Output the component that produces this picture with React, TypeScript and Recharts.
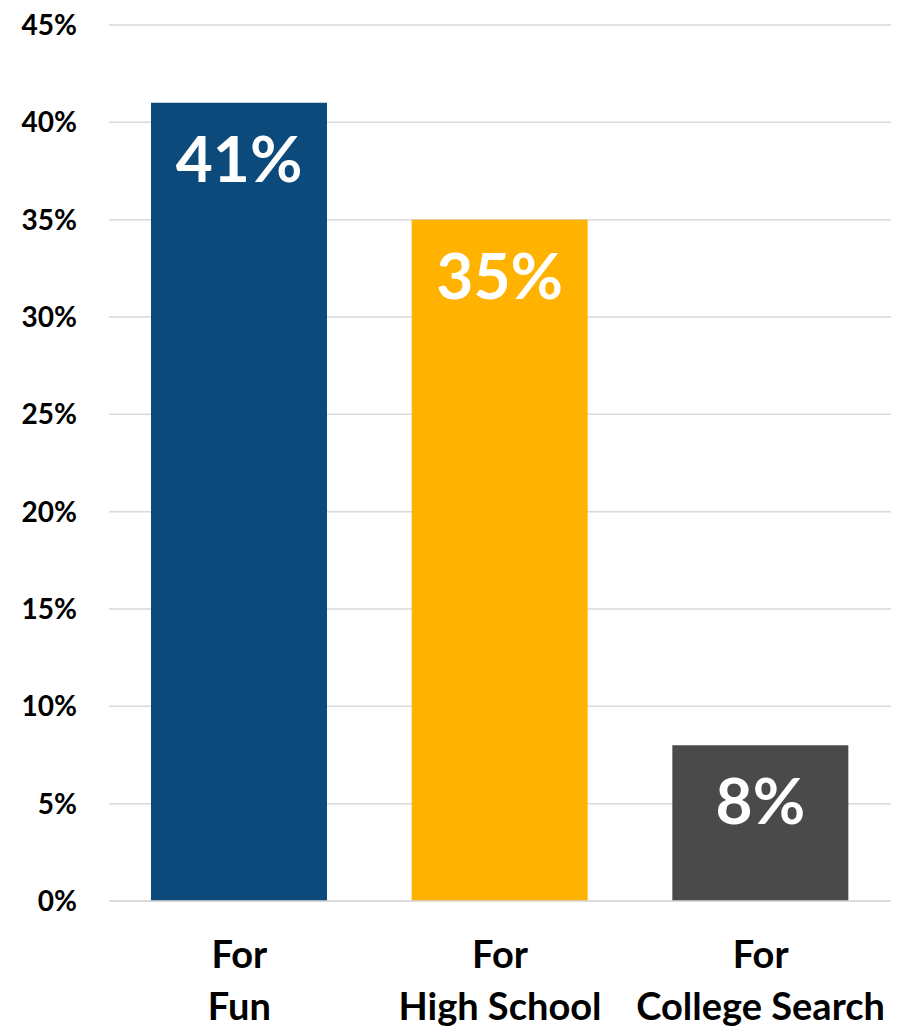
import React from "react";
import { BarChart, Bar, XAxis, YAxis, CartesianGrid, Cell, LabelList } from "recharts";

const categories = ["For\nFun", "For\nHigh School", "For\nCollege Search"];
const values = [41, 35, 8];
const colors = ["#0B4A7A", "#FFB300", "#4A4A4A"];
const yTicks = [0, 5, 10, 15, 20, 25, 30, 35, 40, 45];

const data = categories.map((c, i) => ({ name: c, value: values[i] }));

const FONT = "Lato, 'Open Sans', sans-serif";

const YTick = (props: any) => {
  const { y, payload } = props;
  return (
    <text x={77} y={y} dy={10} textAnchor="end" fontFamily={FONT} fontWeight={700} fontSize={28} fill="#000">
      {payload.value}%
    </text>
  );
};

const XTick = (props: any) => {
  const { x, payload } = props;
  const lines = String(payload.value).split("\n");
  return (
    <g>
      {lines.map((l, i) => (
        <text key={i} x={x} y={968 + i * 52} textAnchor="middle" fontFamily={FONT} fontWeight={700} fontSize={38} fill="#000">
          {l}
        </text>
      ))}
    </g>
  );
};

const ValueLabel = (props: any) => {
  const { x, y, width, value } = props;
  return (
    <text x={x + width / 2} y={y + 79} textAnchor="middle" fontFamily={FONT} fontWeight={700} fontSize={64} fill="#fff">
      {value}%
    </text>
  );
};

export default function App() {
  return (
    <div style={{ position: "absolute", left: 0, top: 0, background: "#fff" }}>
      <BarChart width={901} height={1026} data={data} margin={{ top: 25, right: 10, bottom: 0, left: 0 }}>
        <CartesianGrid horizontal vertical={false} stroke="#D9D9D9" strokeWidth={1.5} />
        <XAxis dataKey="name" height={125} axisLine={{ stroke: "#D9D9D9", strokeWidth: 1.5 }} tickLine={false} tick={<XTick />} interval={0} />
        <YAxis width={109} domain={[0, 45]} ticks={yTicks} axisLine={false} tickLine={false} tick={<YTick />} interval={0} />
        <Bar dataKey="value" barSize={176} isAnimationActive={false}>
          {data.map((d, i) => (
            <Cell key={i} fill={colors[i]} />
          ))}
          <LabelList dataKey="value" content={<ValueLabel />} />
        </Bar>
      </BarChart>
    </div>
  );
}
